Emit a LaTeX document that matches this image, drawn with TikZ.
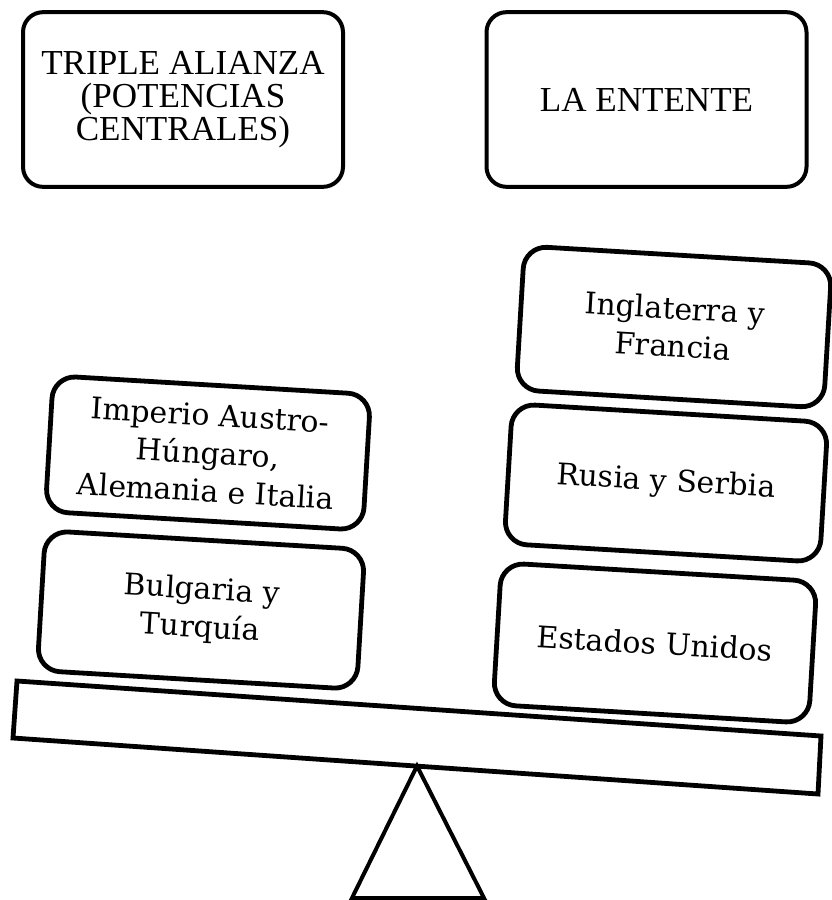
\documentclass[tikz,border=0pt]{standalone}
\usepackage{fontspec}
\setmainfont{Liberation Serif}
\newfontfamily\boxfont{DejaVu Serif}
\begin{document}
\begin{tikzpicture}[x=0.75pt,y=-0.75pt,
  topbox/.style={draw, line width=3pt, rounded corners=15pt, align=center,
    minimum width=240pt, minimum height=131pt, inner sep=0pt,
    font=\fontsize{26.3}{25}\selectfont},
  weightbox/.style={draw, line width=3.6pt, rounded corners=17pt, align=center,
    inner sep=0pt, rotate=-3.4,
    font=\boxfont\fontsize{22.4}{28.6}\selectfont},
  beam/.style={draw, line width=3.6pt, line join=miter},
  pivot/.style={draw, line width=3pt, line join=miter}]
\useasboundingbox (0,0) rectangle (832,900);

\node[topbox] (triple) at (183,99.5) {TRIPLE ALIANZA\\(POTENCIAS\\CENTRALES)};
\node[topbox] (entente) at (646.5,99.5) {LA ENTENTE};

% beam and pivot
\coordinate (b1) at (17,681);
\coordinate (b2) at (821,736);
\coordinate (b3) at (818,794);
\coordinate (b4) at (13,738);
\draw[beam] (b1) -- (b2) -- (b3) -- (b4) -- cycle;
\coordinate (apex) at (417,766);
\coordinate (bl) at (352,898);
\coordinate (br) at (484,898);
\draw[pivot] (apex) -- (br) -- (bl) -- cycle;

% left weights
\node[weightbox, minimum width=238.5pt, minimum height=102pt] (imperio) at (208,453)
  {Imperio Austro-\\Húngaro,\\Alemania e Italia};
\node[weightbox, minimum width=240pt, minimum height=105pt] (bulgaria) at (201,610)
  {Bulgaria y\\Turquía};

% right weights
\node[weightbox, minimum width=231pt, minimum height=108pt] (inglaterra) at (674,327)
  {Inglaterra y\\Francia};
\node[weightbox, minimum width=237pt, minimum height=105pt] (rusia) at (666,483)
  {Rusia y Serbia};
\node[weightbox, minimum width=237pt, minimum height=106.5pt] (eeuu) at (655,643)
  {Estados Unidos};
\end{tikzpicture}
\end{document}
